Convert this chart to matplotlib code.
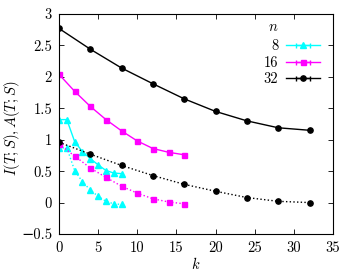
import numpy as np
import matplotlib
matplotlib.use("Agg")
import matplotlib.pyplot as plt
from matplotlib.ticker import FuncFormatter, MultipleLocator

plt.rcParams['font.family'] = ['cmr10', 'DejaVu Serif']
plt.rcParams['mathtext.fontset'] = 'cm'
plt.rcParams['axes.formatter.use_mathtext'] = True
plt.rcParams['font.size'] = 10.5

# n = 8
k8 = [0, 1, 2, 3, 4, 5, 6, 7, 8]
I8 = [1.32, 1.32, 0.97, 0.81, 0.70, 0.60, 0.51, 0.47, 0.46]
A8 = [0.87, 0.87, 0.51, 0.33, 0.20, 0.10, 0.02, -0.02, -0.03]
# n = 16
k16 = [0, 2, 4, 6, 8, 10, 12, 14, 16]
I16 = [2.04, 1.77, 1.53, 1.32, 1.14, 0.98, 0.86, 0.80, 0.76]
A16 = [0.93, 0.74, 0.55, 0.40, 0.26, 0.15, 0.06, 0.01, -0.02]
# n = 32
k32 = [0, 4, 8, 12, 16, 20, 24, 28, 32]
I32 = [2.77, 2.44, 2.14, 1.89, 1.65, 1.45, 1.30, 1.19, 1.15]
A32 = [0.96, 0.77, 0.59, 0.43, 0.29, 0.18, 0.08, 0.02, 0.00]

labels = ["8", "16", "32"]
colors = ["#00ffff", "#ff00ff", "#000000"]
markers = ["^", "s", "o"]
msizes = [3.8, 3.6, 3.8]

fig = plt.figure(figsize=(3.54, 2.75), dpi=100)
ax = fig.add_axes([59/354, 1-234/275, (333-59)/354, (234-14)/275])

series = [(k8, I8, A8), (k16, I16, A16), (k32, I32, A32)]
handles = []
for (k, I, A), c, m, ms, lab in zip(series, colors, markers, msizes, labels):
    ax.plot(k, I, color=c, marker=m, ms=ms, lw=1.0, linestyle='-')
    ax.plot(k, A, color=c, marker=m, ms=ms, lw=1.0, linestyle=':')
    h = ax.errorbar([np.nan], [np.nan], xerr=[1], color=c, marker=m, ms=ms,
                    lw=1.0, capsize=1.8, elinewidth=1.0, label=lab)
    handles.append(h)

ax.set_xlim(0, 35)
ax.set_ylim(-0.5, 3)
ax.xaxis.set_major_locator(MultipleLocator(5))
ax.yaxis.set_major_locator(MultipleLocator(0.5))
fmt = FuncFormatter(lambda v, p: ('%g' % v).replace('-', '\u2212'))
ax.xaxis.set_major_formatter(fmt)
ax.yaxis.set_major_formatter(fmt)
ax.tick_params(direction='in', top=True, right=True, length=3.5, width=0.6, pad=5)
for s in ax.spines.values():
    s.set_linewidth(0.8)

ax.set_xlabel('$k$', labelpad=1)
ax.set_ylabel('$I(T;S),A(T;S)$')
ax.yaxis.set_label_coords(-0.135, 0.48)

leg = ax.legend(handles=handles, labels=labels, loc='upper right',
                bbox_to_anchor=(1.0, 0.944), frameon=False, markerfirst=False,
                handlelength=2.3, handletextpad=0.55, labelspacing=0.2,
                fontsize=10.5)
ax.text(0.781, 0.94, '$n$', transform=ax.transAxes, ha='center', va='center',
        fontsize=10.5)

fig.savefig('out.png', dpi=100)
